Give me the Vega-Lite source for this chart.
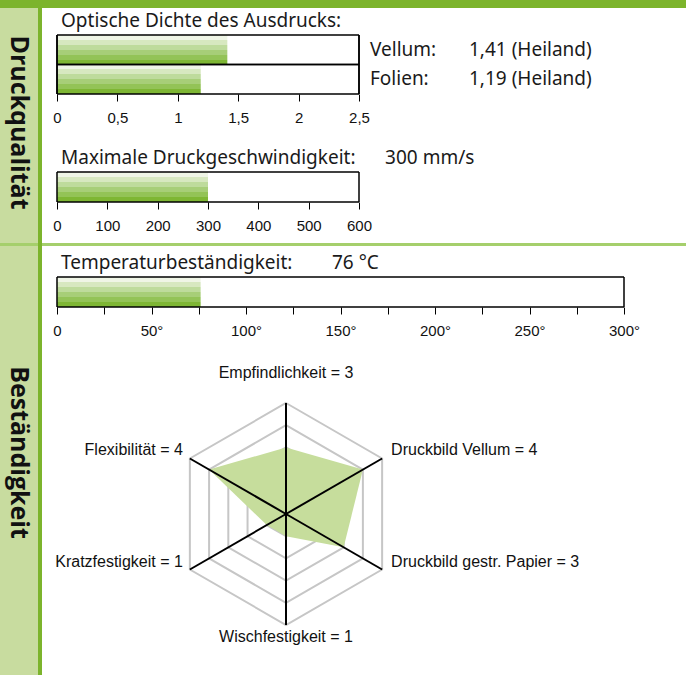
{
  "$schema": "https://vega.github.io/schema/vega-lite/v6.json",
  "padding": 0,
  "background": "white",
  "spacing": 0,
  "config": {
    "view": {"stroke": null},
    "font": "Noto Sans",
    "concat": {"spacing": 0},
    "axis": {
      "labelFont": "Liberation Sans",
      "labelFontSize": 15,
      "labelColor": "#111111",
      "tickColor": "black",
      "tickSize": 7,
      "tickWidth": 1,
      "domain": false,
      "grid": false,
      "labelPadding": 9,
      "labelFlush": false,
      "labelOverlap": false,
      "labelBound": false,
      "zindex": 1
    },
    "title": {
      "font": "Noto Sans",
      "fontSize": 19,
      "fontWeight": "normal",
      "color": "#1a1a1a",
      "anchor": "start",
      "frame": "group",
      "baseline": "alphabetic",
      "dx": 4
    }
  },
  "vconcat": [
    {"width": 686, "height": 8, "view": {"fill": "#7cb42c"}, "data": {"values": []}, "mark": "point"},
    {
      "hconcat": [
        {
          "width": 38, "height": 235, "view": {"fill": "#c8dc9f"},
          "data": {"values": [{"section": "Druckqualität"}]},
          "mark": {"type": "text", "angle": 90, "dx": -3, "font": "Open Sans", "fontWeight": "bold", "fontSize": 25, "color": "#111111", "align": "center", "baseline": "middle"},
          "encoding": {"text": {"field": "section"}}
        },
        {"width": 4, "height": 235, "view": {"fill": "#7cb42c"}, "data": {"values": []}, "mark": "point"},
        {"width": 10, "height": 235, "data": {"values": []}, "mark": "point"},
        {
          "vconcat": [
            {"width": 302, "height": 27, "data": {"values": []}, "mark": "point"},
            {
              "title": {"text": "Optische Dichte des Ausdrucks:", "offset": 3},
              "width": 302, "height": 59,
              "data": {"values": [
                {"medium": "Vellum", "density": 1.41, "note": "1,41 (Heiland)"},
                {"medium": "Folien", "density": 1.19, "note": "1,19 (Heiland)"}
              ]},
              "transform": [{"calculate": "datum.medium + ':'", "as": "mediumLabel"}],
              "layer": [
                {
                  "mark": {"type": "bar", "color": {"gradient": "linear", "x1": 0, "y1": 0, "x2": 0, "y2": 1, "stops": [
                    {"offset": 0, "color": "#eff5e6"}, {"offset": 0.166, "color": "#eff5e6"},
                    {"offset": 0.167, "color": "#d7e8c0"}, {"offset": 0.333, "color": "#d7e8c0"},
                    {"offset": 0.334, "color": "#bedb9c"}, {"offset": 0.5, "color": "#bedb9c"},
                    {"offset": 0.501, "color": "#a7ce78"}, {"offset": 0.666, "color": "#a7ce78"},
                    {"offset": 0.667, "color": "#93c357"}, {"offset": 0.833, "color": "#93c357"},
                    {"offset": 0.834, "color": "#7eb634"}, {"offset": 1, "color": "#7eb634"}]}},
                  "encoding": {
                    "x": {"field": "density", "type": "quantitative", "scale": {"domain": [0, 2.5], "nice": false},
                      "axis": {"title": null, "values": [0, 0.5, 1, 1.5, 2, 2.5], "format": "~g", "labelExpr": "replace(datum.label, '.', ',')"}},
                    "y": {"field": "medium", "type": "nominal", "sort": null, "scale": {"paddingInner": 0, "paddingOuter": 0}, "axis": null}
                  }
                },
                {"mark": {"type": "rule", "color": "black", "strokeWidth": 1.5}, "encoding": {"y": {"field": "medium", "type": "nominal", "sort": null, "bandPosition": 0, "axis": null}}},
                {"mark": {"type": "rule", "color": "black", "strokeWidth": 1.5}, "encoding": {"y": {"field": "medium", "type": "nominal", "sort": null, "bandPosition": 1, "axis": null}}},
                {"mark": {"type": "rule", "color": "black", "strokeWidth": 1.5}, "encoding": {"x": {"datum": 0}}},
                {"mark": {"type": "rule", "color": "black", "strokeWidth": 1.5}, "encoding": {"x": {"datum": 2.5}}},
                {
                  "mark": {"type": "text", "align": "left", "baseline": "middle", "dx": 11, "font": "Noto Sans", "fontSize": 19, "color": "#1a1a1a"},
                  "encoding": {"x": {"datum": 2.5}, "y": {"field": "medium", "type": "nominal", "sort": null, "axis": null}, "text": {"field": "mediumLabel"}}
                },
                {
                  "mark": {"type": "text", "align": "left", "baseline": "middle", "dx": 110, "font": "Noto Sans", "fontSize": 19, "color": "#1a1a1a"},
                  "encoding": {"x": {"datum": 2.5}, "y": {"field": "medium", "type": "nominal", "sort": null, "axis": null}, "text": {"field": "note"}}
                }
              ]
            },
            {"width": 302, "height": 78, "data": {"values": []}, "mark": "point"},
            {
              "title": {"text": "Maximale Druckgeschwindigkeit:\u00a0\u00a0\u00a0\u00a0\u00a0\u00a0300 mm/s", "offset": 3},
              "width": 302, "height": 30,
              "data": {"values": [{"metric": "Druckgeschwindigkeit", "speed": 300}]},
              "layer": [
                {
                  "mark": {"type": "bar", "color": {"gradient": "linear", "x1": 0, "y1": 0, "x2": 0, "y2": 1, "stops": [
                    {"offset": 0, "color": "#eff5e6"}, {"offset": 0.166, "color": "#eff5e6"},
                    {"offset": 0.167, "color": "#d7e8c0"}, {"offset": 0.333, "color": "#d7e8c0"},
                    {"offset": 0.334, "color": "#bedb9c"}, {"offset": 0.5, "color": "#bedb9c"},
                    {"offset": 0.501, "color": "#a7ce78"}, {"offset": 0.666, "color": "#a7ce78"},
                    {"offset": 0.667, "color": "#93c357"}, {"offset": 0.833, "color": "#93c357"},
                    {"offset": 0.834, "color": "#7eb634"}, {"offset": 1, "color": "#7eb634"}]}},
                  "encoding": {
                    "x": {"field": "speed", "type": "quantitative", "scale": {"domain": [0, 600], "nice": false},
                      "axis": {"title": null, "values": [0, 100, 200, 300, 400, 500, 600], "format": "d"}},
                    "y": {"field": "metric", "type": "nominal", "scale": {"paddingInner": 0, "paddingOuter": 0}, "axis": null}
                  }
                },
                {"mark": {"type": "rule", "color": "black", "strokeWidth": 1.5}, "encoding": {"y": {"field": "metric", "type": "nominal", "bandPosition": 0, "axis": null}}},
                {"mark": {"type": "rule", "color": "black", "strokeWidth": 1.5}, "encoding": {"y": {"field": "metric", "type": "nominal", "bandPosition": 1, "axis": null}}},
                {"mark": {"type": "rule", "color": "black", "strokeWidth": 1.5}, "encoding": {"x": {"datum": 0}}},
                {"mark": {"type": "rule", "color": "black", "strokeWidth": 1.5}, "encoding": {"x": {"datum": 600}}}
              ]
            }
          ],
          "spacing": 0,
          "bounds": "flush"
        }
      ],
      "spacing": 0
    },
    {
      "hconcat": [
        {"width": 38, "height": 3, "view": {"fill": "#a5cf6c"}, "data": {"values": []}, "mark": "point"},
        {"width": 4, "height": 3, "view": {"fill": "#7cb42c"}, "data": {"values": []}, "mark": "point"},
        {"width": 644, "height": 3, "view": {"fill": "#a5cf6c"}, "data": {"values": []}, "mark": "point"}
      ],
      "spacing": 0
    },
    {
      "hconcat": [
        {
          "width": 38, "height": 429, "view": {"fill": "#c8dc9f"},
          "data": {"values": [{"section": "Beständigkeit"}]},
          "mark": {"type": "text", "angle": 90, "dx": -8, "font": "Open Sans", "fontWeight": "bold", "fontSize": 25, "color": "#111111", "align": "center", "baseline": "middle"},
          "encoding": {"text": {"field": "section"}}
        },
        {"width": 4, "height": 429, "view": {"fill": "#7cb42c"}, "data": {"values": []}, "mark": "point"},
        {"width": 10, "height": 429, "data": {"values": []}, "mark": "point"},
        {
          "vconcat": [
            {"width": 567, "height": 31, "data": {"values": []}, "mark": "point"},
            {
              "title": {"text": "Temperaturbeständigkeit:\u00a0\u00a0\u00a0\u00a0\u00a0\u00a0\u00a0\u00a076 °C", "offset": 3},
              "width": 567, "height": 30,
              "data": {"values": [{"metric": "Temperatur", "celsius": 76}]},
              "layer": [
                {
                  "mark": {"type": "bar", "color": {"gradient": "linear", "x1": 0, "y1": 0, "x2": 0, "y2": 1, "stops": [
                    {"offset": 0, "color": "#eff5e6"}, {"offset": 0.166, "color": "#eff5e6"},
                    {"offset": 0.167, "color": "#d7e8c0"}, {"offset": 0.333, "color": "#d7e8c0"},
                    {"offset": 0.334, "color": "#bedb9c"}, {"offset": 0.5, "color": "#bedb9c"},
                    {"offset": 0.501, "color": "#a7ce78"}, {"offset": 0.666, "color": "#a7ce78"},
                    {"offset": 0.667, "color": "#93c357"}, {"offset": 0.833, "color": "#93c357"},
                    {"offset": 0.834, "color": "#7eb634"}, {"offset": 1, "color": "#7eb634"}]}},
                  "encoding": {
                    "x": {"field": "celsius", "type": "quantitative", "scale": {"domain": [0, 300], "nice": false},
                      "axis": {"title": null, "values": [0, 25, 50, 75, 100, 125, 150, 175, 200, 225, 250, 275, 300], "format": "d",
                        "labelExpr": "datum.value % 50 != 0 ? '' : (datum.value == 0 ? '0' : datum.label + '°')"}},
                    "y": {"field": "metric", "type": "nominal", "scale": {"paddingInner": 0, "paddingOuter": 0}, "axis": null}
                  }
                },
                {"mark": {"type": "rule", "color": "black", "strokeWidth": 1.5}, "encoding": {"y": {"field": "metric", "type": "nominal", "bandPosition": 0, "axis": null}}},
                {"mark": {"type": "rule", "color": "black", "strokeWidth": 1.5}, "encoding": {"y": {"field": "metric", "type": "nominal", "bandPosition": 1, "axis": null}}},
                {"mark": {"type": "rule", "color": "black", "strokeWidth": 1.5}, "encoding": {"x": {"datum": 0}}},
                {"mark": {"type": "rule", "color": "black", "strokeWidth": 1.5}, "encoding": {"x": {"datum": 300}}}
              ]
            },
            {"width": 567, "height": 46, "data": {"values": []}, "mark": "point"},
            {
              "width": 440, "height": 320,
              "data": {"values": [
                {"criterion": "Empfindlichkeit", "score": 3, "pos": 0},
                {"criterion": "Druckbild Vellum", "score": 4, "pos": 1},
                {"criterion": "Druckbild gestr. Papier", "score": 3, "pos": 2},
                {"criterion": "Wischfestigkeit", "score": 1, "pos": 3},
                {"criterion": "Kratzfestigkeit", "score": 1, "pos": 4},
                {"criterion": "Flexibilität", "score": 4, "pos": 5}
              ]},
              "transform": [
                {"calculate": "datum.score * sin(datum.pos * PI / 3)", "as": "px"},
                {"calculate": "datum.score * cos(datum.pos * PI / 3)", "as": "py"},
                {"calculate": "5 * sin(datum.pos * PI / 3)", "as": "ox"},
                {"calculate": "5 * cos(datum.pos * PI / 3)", "as": "oy"},
                {"calculate": "datum.criterion + ' = ' + datum.score", "as": "caption"}
              ],
              "layer": [
                {
                  "data": {"values": [
                    {"level": 1, "pos": 0}, {"level": 1, "pos": 1}, {"level": 1, "pos": 2}, {"level": 1, "pos": 3}, {"level": 1, "pos": 4}, {"level": 1, "pos": 5},
                    {"level": 2, "pos": 0}, {"level": 2, "pos": 1}, {"level": 2, "pos": 2}, {"level": 2, "pos": 3}, {"level": 2, "pos": 4}, {"level": 2, "pos": 5},
                    {"level": 3, "pos": 0}, {"level": 3, "pos": 1}, {"level": 3, "pos": 2}, {"level": 3, "pos": 3}, {"level": 3, "pos": 4}, {"level": 3, "pos": 5},
                    {"level": 4, "pos": 0}, {"level": 4, "pos": 1}, {"level": 4, "pos": 2}, {"level": 4, "pos": 3}, {"level": 4, "pos": 4}, {"level": 4, "pos": 5},
                    {"level": 5, "pos": 0}, {"level": 5, "pos": 1}, {"level": 5, "pos": 2}, {"level": 5, "pos": 3}, {"level": 5, "pos": 4}, {"level": 5, "pos": 5}
                  ]},
                  "transform": [
                    {"calculate": "datum.level * sin(datum.pos * PI / 3)", "as": "px"},
                    {"calculate": "datum.level * cos(datum.pos * PI / 3)", "as": "py"}
                  ],
                  "mark": {"type": "line", "interpolate": "linear-closed", "color": "#c6c6c6", "strokeWidth": 2},
                  "encoding": {
                    "x": {"field": "px", "type": "quantitative", "scale": {"domain": [-10.315, 9.505], "nice": false, "zero": false}, "axis": null},
                    "y": {"field": "py", "type": "quantitative", "scale": {"domain": [-7.162, 7.252], "nice": false, "zero": false}, "axis": null},
                    "detail": {"field": "level"},
                    "order": {"field": "pos"}
                  }
                },
                {
                  "mark": {"type": "line", "interpolate": "linear-closed", "fill": "#c6dd9c", "stroke": null},
                  "encoding": {
                    "x": {"field": "px", "type": "quantitative"},
                    "y": {"field": "py", "type": "quantitative"},
                    "order": {"field": "pos"}
                  }
                },
                {
                  "mark": {"type": "rule", "color": "black", "strokeWidth": 2},
                  "encoding": {
                    "x": {"field": "ox", "type": "quantitative"},
                    "y": {"field": "oy", "type": "quantitative"},
                    "x2": {"datum": 0},
                    "y2": {"datum": 0}
                  }
                },
                {
                  "transform": [{"filter": "datum.pos == 0"}],
                  "mark": {"type": "text", "align": "center", "baseline": "middle", "dy": -30, "font": "Liberation Sans", "fontSize": 16, "color": "#111111"},
                  "encoding": {"x": {"field": "ox", "type": "quantitative"}, "y": {"field": "oy", "type": "quantitative"}, "text": {"field": "caption"}}
                },
                {
                  "transform": [{"filter": "datum.pos == 3"}],
                  "mark": {"type": "text", "align": "center", "baseline": "middle", "dy": 12, "font": "Liberation Sans", "fontSize": 16, "color": "#111111"},
                  "encoding": {"x": {"field": "ox", "type": "quantitative"}, "y": {"field": "oy", "type": "quantitative"}, "text": {"field": "caption"}}
                },
                {
                  "transform": [{"filter": "datum.pos == 1 || datum.pos == 2"}],
                  "mark": {"type": "text", "align": "left", "baseline": "middle", "dx": 9, "dy": -8, "font": "Liberation Sans", "fontSize": 16, "color": "#111111"},
                  "encoding": {"x": {"field": "ox", "type": "quantitative"}, "y": {"field": "oy", "type": "quantitative"}, "text": {"field": "caption"}}
                },
                {
                  "transform": [{"filter": "datum.pos == 4 || datum.pos == 5"}],
                  "mark": {"type": "text", "align": "right", "baseline": "middle", "dx": -7, "dy": -8, "font": "Liberation Sans", "fontSize": 16, "color": "#111111"},
                  "encoding": {"x": {"field": "ox", "type": "quantitative"}, "y": {"field": "oy", "type": "quantitative"}, "text": {"field": "caption"}}
                }
              ]
            }
          ],
          "spacing": 0,
          "bounds": "flush"
        }
      ],
      "spacing": 0
    }
  ]
}
